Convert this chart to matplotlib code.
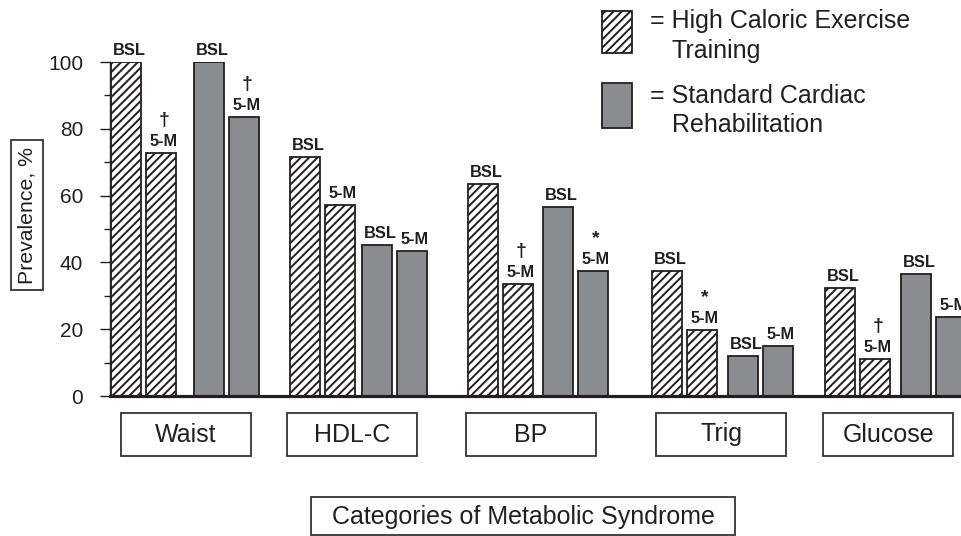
import matplotlib
matplotlib.use("Agg")
import matplotlib.pyplot as plt
from matplotlib.patches import Rectangle
from matplotlib.transforms import blended_transform_factory

plt.rcParams["font.family"] = ["Liberation Sans", "DejaVu Sans"]
plt.rcParams["hatch.linewidth"] = 1.4

# prevalence (%) of each metabolic syndrome component
categories = ["Waist", "HDL-C", "BP", "Trig", "Glucose"]
hcet_bsl = [100, 71.6, 63.5, 37.3, 32.3]
hcet_5m = [72.8, 57.2, 33.5, 19.8, 11.2]
scr_bsl = [100, 45.2, 56.6, 12.0, 36.5]
scr_5m = [83.5, 43.4, 37.3, 15.0, 23.6]
# significance marks over the 5-month bars
hcet_sig = ["\u2020", "", "\u2020", "*", "\u2020"]
scr_sig = ["\u2020", "", "*", "", ""]

# layout (x in "pixel-like" units)
group_left = [111, 290, 468, 652, 825]
scr_offset = [83, 72, 75, 76, 76]
pair_step = 35
bar_w = 30

W, H = 962, 536
ink = "#231f20"
gray = "#8b8c8f"

fig = plt.figure(figsize=(W / 100, H / 100), dpi=100)
ax = fig.add_axes([110 / W, 1 - 396 / H, 852 / W, 334 / H])
ax.set_xlim(110, 962)
ax.set_ylim(0, 100)

bar_kw = dict(width=bar_w, align="edge", linewidth=1.3, edgecolor=ink)
xs = []
for i in range(len(categories)):
    x0 = group_left[i]
    x1 = x0 + pair_step
    x2 = x0 + scr_offset[i]
    x3 = x2 + pair_step
    ax.bar(x0, hcet_bsl[i], color="white", hatch="////", **bar_kw)
    ax.bar(x1, hcet_5m[i], color="white", hatch="////", **bar_kw)
    ax.bar(x2, scr_bsl[i], color=gray, **bar_kw)
    ax.bar(x3, scr_5m[i], color=gray, **bar_kw)
    items = [(x0, hcet_bsl[i], "BSL", ""), (x1, hcet_5m[i], "5-M", hcet_sig[i]),
             (x2, scr_bsl[i], "BSL", ""), (x3, scr_5m[i], "5-M", scr_sig[i])]
    for x, v, lab, sig in items:
        cx = x + bar_w / 2
        ax.annotate(lab, (cx, v), xytext=(3, 7), textcoords="offset pixels",
                    ha="center", va="baseline", fontsize=11.8, fontweight="bold",
                    color=ink, annotation_clip=False)
        if sig:
            ax.annotate(sig, (cx, v), xytext=(3, 28), textcoords="offset pixels",
                        ha="center", va="baseline", fontsize=14, fontweight="bold",
                        color=ink, annotation_clip=False)
    xs.append((x0 + x3 + bar_w) / 2)

for s in ["top", "right"]:
    ax.spines[s].set_visible(False)
ax.spines["left"].set_linewidth(1.0)
ax.spines["left"].set_color(ink)
ax.spines["bottom"].set_linewidth(2.3)
ax.spines["bottom"].set_color(ink)
ax.set_xticks([])
ax.set_yticks(range(0, 101, 20))
ax.set_yticks(range(10, 100, 20), minor=True)
ax.tick_params(axis="y", which="major", length=7.2, width=1.0, color=ink,
               labelsize=15, labelcolor=ink, pad=12)
ax.tick_params(axis="y", which="minor", length=4.3, width=1.0, color=ink)

# category boxes under the axis
btr = blended_transform_factory(ax.transData, fig.transFigure)
box_w, box_top, box_bot = 130, 413, 456
shift = [1, -6, -7, -1, -7]
for i, name in enumerate(categories):
    cx = xs[i] + shift[i]
    fig.add_artist(Rectangle((cx - box_w / 2, 1 - box_bot / H), box_w,
                             (box_bot - box_top) / H, transform=btr,
                             facecolor="white", edgecolor="#333333", linewidth=1.3))
    fig.text(cx, 1 - (box_top + box_bot) / 2 / H, name, transform=btr,
             ha="center", va="center", fontsize=18, color=ink)

# x-axis title box
fig.add_artist(Rectangle((311 / W, 1 - 535 / H), 424 / W, 38 / H,
                         transform=fig.transFigure, facecolor="white",
                         edgecolor="#333333", linewidth=1.3))
fig.text(523 / W, 1 - 517 / H, "Categories of Metabolic Syndrome",
         ha="center", va="center", fontsize=18, color=ink)

# y-axis title in a box
fig.text(27 / W, 1 - 215 / H, "Prevalence, %", rotation=90, ha="center",
         va="center", fontsize=15.3, color=ink,
         bbox=dict(boxstyle="square,pad=0.3", facecolor="white",
                   edgecolor="#333333", linewidth=1.3))

# legend drawn by hand
fig.add_artist(Rectangle((602 / W, 1 - 53 / H), 30 / W, 42 / H,
                         transform=fig.transFigure, facecolor="white",
                         hatch="////", edgecolor=ink, linewidth=1.3))
fig.add_artist(Rectangle((602 / W, 1 - 128 / H), 30 / W, 45 / H,
                         transform=fig.transFigure, facecolor=gray,
                         edgecolor=ink, linewidth=1.3))
leg = [(650, 28, "= High Caloric Exercise"), (672, 58, "Training"),
       (650, 103, "= Standard Cardiac"), (672, 132, "Rehabilitation")]
for x, y, t in leg:
    fig.text(x / W, 1 - y / H, t, ha="left", va="baseline", fontsize=18, color=ink)

fig.savefig("out.png", dpi=100)
